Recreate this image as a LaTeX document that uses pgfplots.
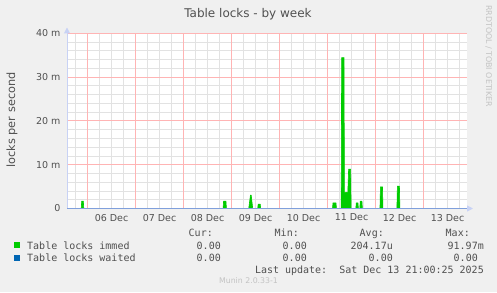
\documentclass[border=0pt]{standalone}
\usepackage{fontspec}
\setmainfont{DejaVu Sans}
\newfontfamily\monof{DejaVu Sans Mono}
\usepackage{pgfplots}
\pgfplotsset{compat=1.18}
\usetikzlibrary{arrows.meta}
\definecolor{bg}{RGB}{240,240,240}
\definecolor{mgreen}{RGB}{0,204,0}
\definecolor{mblue}{RGB}{0,102,179}
\definecolor{axblue}{RGB}{128,160,220}
\definecolor{arrowc}{RGB}{200,210,245}
\definecolor{gridred}{RGB}{255,180,180}
\definecolor{gridgray}{RGB}{226,226,226}
\definecolor{txt}{RGB}{80,80,80}
\definecolor{faint}{RGB}{195,195,195}
\begin{document}
\begin{tikzpicture}[x=1pt,y=1pt]
\fill[bg] (0,0) rectangle (497,292);
\begin{axis}[
  at={(67pt,83.5pt)}, anchor=south west,
  scale only axis, width=400pt, height=175pt,
  xmin=-0.42708, xmax=7.90625, ymin=0, ymax=40,
  axis lines*=left,
  x axis line style={axblue, line width=1pt, -{Triangle[width=6pt,length=6pt,color=arrowc]}, shorten >=-6pt},
  y axis line style={arrowc, line width=1pt, -{Triangle[width=6pt,length=6pt,color=arrowc]}, shorten >=-6pt},
  axis background/.style={fill=white},
  xtick={0.5,1.5,2.5,3.5,4.5,5.5,6.5,7.5},
  xticklabels={06 Dec,07 Dec,08 Dec,09 Dec,10 Dec,11 Dec,12 Dec,13 Dec},
  minor xtick={-0.25,0.25,0.5,0.75,1.25,1.5,1.75,2.25,2.5,2.75,3.25,3.5,3.75,4.25,4.5,4.75,5.25,5.5,5.75,6.25,6.5,6.75,7.25,7.5,7.75},
  xminorgrids,
  extra x ticks={0,1,2,3,4,5,6,7},
  extra x tick labels={},
  extra x tick style={grid=major, major grid style={draw=gridred, solid, line width=1pt}},
  ytick={0,10,20,30,40},
  yticklabels={0,10 m,20 m,30 m,40 m},
  minor ytick={2,4,6,8,12,14,16,18,22,24,26,28,32,34,36,38},
  yminorgrids, ymajorgrids,
  major tick length=0pt, minor tick length=0pt,
  major grid style={draw=gridred, solid, line width=1pt},
  minor grid style={draw=gridgray, solid, line width=1pt},
  tick label style={font=\fontsize{9.5}{11}\selectfont, text=txt},
  xticklabel style={yshift=-2pt},
  yticklabel style={xshift=-3pt},
  clip=false,
]
\addplot[fill=mgreen, draw=mgreen, line width=0.6pt] coordinates {
(-0.42708,0)
(-0.131,0)(-0.12,1.7)(-0.088,1.7)(-0.077,0)
(2.825,0)(2.835,1.7)(2.884,1.7)(2.894,0)
(3.359,0)(3.395,3.05)(3.41,3.05)(3.442,0)
(3.546,0)(3.556,1.0)(3.598,1.0)(3.608,0)
(5.104,0)(5.115,1.3)(5.176,1.3)(5.187,0)
(5.285,0)(5.295,34.5)(5.343,34.5)(5.353,3.7)(5.405,3.7)(5.42,2.5)(5.44,9.0)(5.482,9.0)(5.492,0)
(5.590,0)(5.600,1.3)(5.634,1.3)(5.644,0)
(5.673,0)(5.683,1.7)(5.717,1.7)(5.727,0)
(6.093,0)(6.103,4.95)(6.145,4.95)(6.155,0)
(6.446,0)(6.456,5.1)(6.498,5.1)(6.508,0)
(7.875,0)
} \closedcycle;
\addplot[axblue, line width=1pt] coordinates {(-0.42708,0)(7.875,0)};
\end{axis}
% title and labels
\node[anchor=base, inner sep=0, font=\fontsize{12}{14}\selectfont, text=txt] at (248,274) {Table locks - by week};
\node[anchor=base, inner sep=0, rotate=90, font=\fontsize{11.3}{13}\selectfont, text=txt] at (15,172) {locks per second};
\node[anchor=base, inner sep=0, rotate=-90, font=\fontsize{7.9}{9}\selectfont, text=faint] at (486,236) {RRDTOOL / TOBI OETIKER};
% legend
\fill[mgreen] (14,43.7) rectangle (20,49.7);
\fill[mblue] (14,31) rectangle (20,37);
\begin{scope}[every node/.style={inner sep=0, font=\monof\fontsize{10}{12}\selectfont, text=txt}]
\node[anchor=base west] at (27,43) {Table locks immed};
\node[anchor=base west] at (27,31) {Table locks waited};
\node[anchor=base east] at (213,55.3) {Cur:};
\node[anchor=base east] at (299,55.3) {Min:};
\node[anchor=base east] at (384,55.3) {Avg:};
\node[anchor=base east] at (470,55.3) {Max:};
\node[anchor=base east] at (221,43) {0.00};
\node[anchor=base east] at (307,43) {0.00};
\node[anchor=base east] at (393,43) {204.17u};
\node[anchor=base east] at (484,43) {91.97m};
\node[anchor=base east] at (221,31) {0.00};
\node[anchor=base east] at (307,31) {0.00};
\node[anchor=base east] at (393,31) {0.00};
\node[anchor=base east] at (478,31) {0.00};
\node[anchor=base east] at (484,19) {Last update:\ \ Sat Dec 13 21:00:25 2025};
\end{scope}
\node[anchor=base, inner sep=0, font=\fontsize{7.8}{9}\selectfont, text=faint] at (248.5,8.3) {Munin 2.0.33-1};
\end{tikzpicture}
\end{document}
